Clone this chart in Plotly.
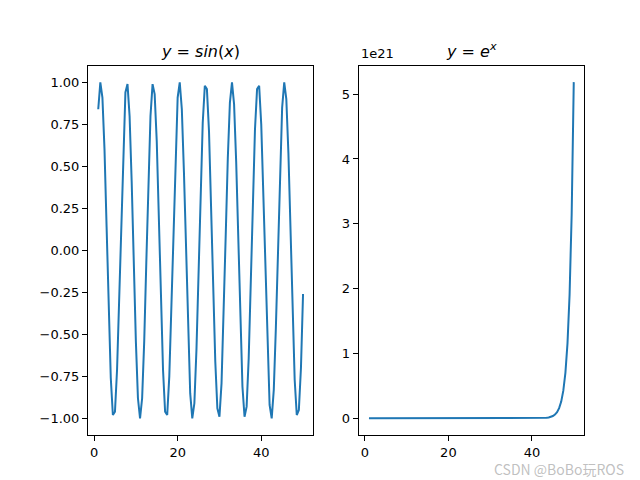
import plotly.graph_objects as go
from plotly.subplots import make_subplots

x = [1+0.5*i for i in range(99)]
sin_y = [0.84,1.00,0.91,0.60,0.14,-0.35,-0.76,-0.98,-0.96,-0.71,-0.28,0.22,0.66,0.94,0.99,0.80,0.41,-0.08,-0.54,-0.88,
 -1.00,-0.88,-0.54,-0.07,0.42,0.80,0.99,0.93,0.65,0.20,-0.29,-0.71,-0.96,-0.98,-0.75,-0.34,0.15,0.61,0.91,1.00,
 0.84,0.47,-0.01,-0.49,-0.85,-1.00,-0.91,-0.59,-0.13,0.36,0.76,0.98,0.96,0.71,0.27,-0.22,-0.66,-0.94,-0.99,-0.79,
 -0.40,0.09,0.55,0.88,1.00,0.87,0.53,0.06,-0.43,-0.81,-0.99,-0.93,-0.64,-0.19,0.30,0.72,0.96,0.98,0.75,0.33,
 -0.16,-0.61,-0.92,-1.00,-0.83,-0.46,0.02,0.50,0.85,1.00,0.90,0.58,0.12,-0.37,-0.77,-0.98,-0.95,-0.70,-0.26]
# exp(x) in units of 1e21
exp_y = [0.0]*84 + [0.0047,0.0078,0.013,0.021,0.035,0.058,0.095,0.157,0.258,0.426,0.702,1.157,1.907,3.145,5.185]

fig = make_subplots(rows=1, cols=2, horizontal_spacing=0.0)
c = "#1f77b4"
fig.add_trace(go.Scatter(x=x, y=sin_y, mode="lines", line=dict(color=c, width=2)), 1, 1)
fig.add_trace(go.Scatter(x=x, y=exp_y, mode="lines", line=dict(color=c, width=2)), 1, 2)

ax = dict(showline=True, linecolor="black", linewidth=1, mirror=True, ticks="outside",
          ticklen=5, tickcolor="black", showgrid=False, zeroline=False)
fig.update_xaxes(**ax, range=[-1.45, 52.45], tickvals=[0, 20, 40])
fig.update_yaxes(**ax, domain=[0.11, 0.88])
fig.update_layout(
    xaxis=dict(domain=[0.125, 0.477]), xaxis2=dict(domain=[0.548, 0.9]),
    yaxis=dict(range=[-1.1, 1.1], tickvals=[-1, -0.75, -0.5, -0.25, 0, 0.25, 0.5, 0.75, 1],
               ticktext=["−1.00","−0.75","−0.50","−0.25","0.00","0.25","0.50","0.75","1.00"]),
    yaxis2=dict(range=[-0.26, 5.44], tickvals=[0, 1, 2, 3, 4, 5]),
    width=640, height=480, showlegend=False,
    margin=dict(l=0, r=0, t=0, b=0),
    paper_bgcolor="white", plot_bgcolor="white",
    font=dict(family="DejaVu Sans", size=13, color="black"),
    annotations=[
        dict(text="<i>y</i> = <i>sin</i>(<i>x</i>)", x=0.301, y=0.885, xref="paper", yref="paper",
             xanchor="center", yanchor="bottom", showarrow=False, font=dict(size=16)),
        dict(text="<i>y</i> = <i>e<sup>x</sup></i>", x=0.724, y=0.885, xref="paper", yref="paper",
             xanchor="center", yanchor="bottom", showarrow=False, font=dict(size=16)),
        dict(text="1e21", x=0.548, y=0.885, xref="paper", yref="paper",
             xanchor="left", yanchor="bottom", showarrow=False, font=dict(size=13)),
        dict(text="CSDN @BoBo玩ROS", x=0.965, y=0.015, xref="paper", yref="paper",
             xanchor="right", yanchor="bottom", showarrow=False,
             font=dict(size=14, color="rgba(150,150,150,0.6)", family="Noto Sans CJK SC")),
    ],
)
fig.write_html("out.html")
